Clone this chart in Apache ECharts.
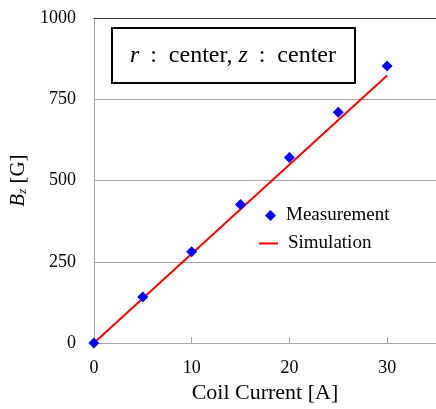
<!DOCTYPE html>
<html>
<head>
<meta charset="utf-8">
<script src="https://cdn.jsdelivr.net/npm/echarts@6/dist/echarts.min.js"></script>
<style>
  html, body { margin: 0; padding: 0; background: #fff; }
  #chart { width: 436px; height: 409px; }
</style>
</head>
<body>
<div id="chart"></div>
<script>
// Coil current [A] at which the field was measured
const currents = [0, 5, 10, 15, 20, 25, 30];
// Measured axial field B_z [G] at r = center, z = center
const measured = [0, 142, 281, 426, 571, 710, 852];
// Simulated field: straight line from 0 A to 30 A
const simCurrents = [0, 30];
const simulated = [0, 823];
// Axis ticks
const yTicks = [0, 250, 500, 750, 1000];
const xTicks = [0, 10, 20, 30];

const serif = '"Liberation Serif", "Times New Roman", serif';

const chart = echarts.init(document.getElementById('chart'), null, { renderer: 'canvas' });

const option = {
  animation: false,
  backgroundColor: '#ffffff',
  textStyle: { fontFamily: serif, color: '#000' },
  grid: { left: 90, right: 0, top: 18, bottom: 60, containLabel: false },
  xAxis: [{
    type: 'value',
    min: xTicks[0],
    max: 35,
    interval: xTicks[1] - xTicks[0],
    name: 'Coil Current [A]',
    nameLocation: 'middle',
    nameGap: 38,
    nameTextStyle: { fontFamily: serif, fontSize: 22, color: '#000' },
    axisLine: { show: true, lineStyle: { color: '#a6a6a6', width: 1 } },
    axisTick: { show: true, inside: true, length: 6, lineStyle: { color: '#a6a6a6' } },
    axisLabel: { fontFamily: serif, fontSize: 18, color: '#000', margin: 16, showMaxLabel: false },
    splitLine: { show: false }
  }, {
    type: 'value',
    position: 'top',
    min: 0,
    max: 35,
    axisLine: { show: true, lineStyle: { color: '#333', width: 1 } },
    axisTick: { show: false },
    axisLabel: { show: false },
    splitLine: { show: false }
  }],
  yAxis: {
    type: 'value',
    min: yTicks[0],
    max: yTicks[yTicks.length - 1],
    interval: yTicks[1] - yTicks[0],
    name: '{i|B}{s|z}{n| [G]}',
    nameLocation: 'middle',
    nameRotate: 90,
    nameGap: 50,
    nameTextStyle: {
      fontFamily: serif, fontSize: 20, color: '#000',
      rich: {
        i: { fontFamily: serif, fontSize: 21, fontStyle: 'italic', color: '#000' },
        s: { fontFamily: serif, fontSize: 13, fontStyle: 'italic', color: '#000', verticalAlign: 'bottom', padding: [8, 0, 0, 0] },
        n: { fontFamily: serif, fontSize: 21, color: '#000' }
      }
    },
    axisLine: { show: true, lineStyle: { color: '#a6a6a6', width: 1 } },
    axisTick: { show: false },
    axisLabel: { fontFamily: serif, fontSize: 18, color: '#000', margin: 18, formatter: v => String(v) },
    splitLine: { show: true, lineStyle: { color: '#a6a6a6', width: 1 } }
  },
  legend: [{
    data: ['Measurement'],
    orient: 'vertical',
    left: 265,
    top: 206,
    padding: 0,
    icon: 'diamond',
    itemWidth: 11,
    itemHeight: 11,
    itemGap: 0,
    textStyle: { fontFamily: serif, fontSize: 19, color: '#000', padding: [0, 0, 0, 5] }
  }, {
    data: ['Simulation'],
    orient: 'vertical',
    left: 259,
    top: 234,
    padding: 0,
    icon: 'rect',
    itemWidth: 19,
    itemHeight: 2,
    itemGap: 0,
    textStyle: { fontFamily: serif, fontSize: 19, color: '#000', padding: [0, 0, 0, 5] }
  }],
  graphic: [{
    type: 'group',
    left: 111,
    top: 27,
    children: [{
      type: 'rect',
      shape: { x: 0, y: 0, width: 243, height: 55 },
      style: { fill: '#fff', stroke: '#000', lineWidth: 2 }
    }, {
      type: 'text',
      x: 121,
      y: 28,
      style: {
        text: '{i|r}{n|\u2009 :  center, }{i|z}{n|\u2009 :  center}',
        align: 'center',
        verticalAlign: 'middle',
        rich: {
          i: { fontFamily: serif, fontSize: 24, fontStyle: 'italic', fill: '#000' },
          n: { fontFamily: serif, fontSize: 24, fill: '#000' }
        }
      }
    }]
  }],
  series: [{
    name: 'Simulation',
    type: 'line',
    data: simCurrents.map((c, i) => [c, simulated[i]]),
    symbol: 'none',
    lineStyle: { color: '#ff0000', width: 2 },
    itemStyle: { color: '#ff0000' },
    z: 2
  }, {
    name: 'Measurement',
    type: 'scatter',
    data: currents.map((c, i) => [c, measured[i]]),
    symbol: 'diamond',
    symbolSize: 11,
    itemStyle: { color: '#0000ff', opacity: 1 },
    z: 3
  }]
};

chart.setOption(option);
</script>
</body>
</html>
